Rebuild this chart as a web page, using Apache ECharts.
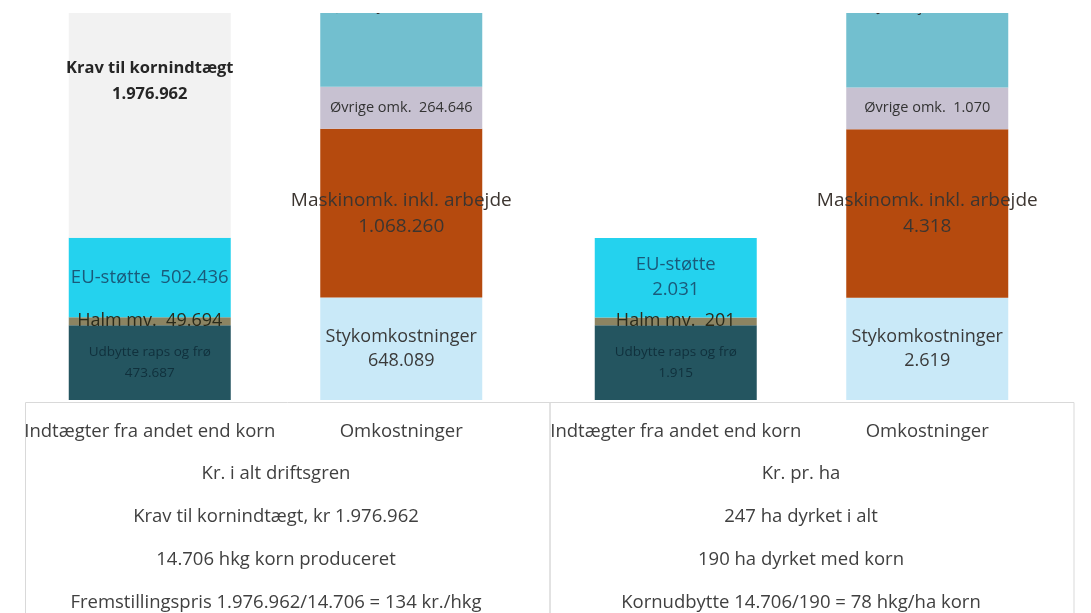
<!DOCTYPE html>
<html>
<head>
<meta charset="utf-8">
<script src="https://cdn.jsdelivr.net/npm/echarts@6/dist/echarts.min.js"></script>
<style>
  html, body { margin: 0; padding: 0; overflow: hidden; background: #fff; }
  /* chart is taller than the window and shifted up, so the top of the tall bars is cut off */
  #main { position: absolute; left: 0; top: -100px; width: 1091px; height: 713px; }
</style>
</head>
<body>
<div id="main"></div>
<script>
const categories = ['Indtægter fra andet end korn', 'Omkostninger'];

const indtaegtNavne = ['Udbytte raps og frø', 'Halm mv.', 'EU-støtte', 'Krav til kornindtægt'];
const indtaegtIAlt = [473687, 49694, 502436, 1976962];
const indtaegtPrHa = [1915, 201, 2031];

const omkNavne = ['Stykomkostninger', 'Maskinomk. inkl. arbejde', 'Øvrige omk.', 'Jordleje'];
const omkIAlt = [648089, 1068260, 264646, 1021784];
const omkPrHa = [2619, 4318, 1070, 4144];

const noterVenstre = ['Kr. i alt driftsgren', 'Krav til kornindtægt, kr 1.976.962',
  '14.706 hkg korn produceret', 'Fremstillingspris 1.976.962/14.706 = 134 kr./hkg'];
const noterHoejre = ['Kr. pr. ha', '247 ha dyrket i alt',
  '190 ha dyrket med korn', 'Kornudbytte 14.706/190 = 78 hkg/ha korn'];

// styles per stack level
const indtaegtFarver = ['#245560', '#8c8462', '#24d2ee', '#f2f2f2'];
const omkFarver = ['#c9e9f8', '#b54a0e', '#c7c1d1', '#72bfcf'];
const indtaegtLabel = [
  { fontSize: 13.5, color: '#10303c', lineHeight: 21 },
  { fontSize: 18, color: '#2a2a1a' },
  { fontSize: 18.5, color: '#1a5a7a', lineHeight: 25 },
  { fontSize: 16.5, color: '#262626', fontWeight: 'bold', lineHeight: 26 }
];
const omkLabel = [
  { fontSize: 18, color: '#3a3a3a', lineHeight: 24 },
  { fontSize: 19, color: '#3c3530', lineHeight: 26 },
  { fontSize: 14.5, color: '#333', },
  { fontSize: 15, color: '#333' }
];
const sepVenstre = { inc: ['\n', '  ', '  ', '\n'], omk: ['\n', '\n', '  ', '  '] };
const sepHoejre = { inc: ['\n', '  ', '\n', '\n'], omk: ['\n', '\n', '  ', '  '] };

function fmt(n) {
  return String(n).replace(/\B(?=(\d{3})+(?!\d))/g, '.');
}

function buildSeries(gridIdx, incVals, omkVals, sep) {
  const out = [];
  for (let k = 0; k < 4; k++) {
    const items = [];
    if (incVals[k] != null) {
      items.push({
        value: incVals[k],
        itemStyle: { color: indtaegtFarver[k] },
        label: Object.assign({ formatter: indtaegtNavne[k] + sep.inc[k] + fmt(incVals[k]) }, indtaegtLabel[k])
      });
    } else {
      items.push('-');
    }
    items.push({
      value: omkVals[k],
      itemStyle: { color: omkFarver[k] },
      label: Object.assign({ formatter: omkNavne[k] + sep.omk[k] + fmt(omkVals[k]) }, omkLabel[k])
    });
    out.push({
      type: 'bar',
      stack: 'total' + gridIdx,
      xAxisIndex: gridIdx,
      yAxisIndex: gridIdx,
      barWidth: 162,
      clip: false,
      label: { show: true, position: 'inside' },
      emphasis: { disabled: true },
      data: items
    });
  }
  return out;
}

const myChart = echarts.init(document.getElementById('main'));

const xAx = (i) => ({
  type: 'category',
  gridIndex: i,
  data: categories,
  axisLine: { show: false },
  axisTick: { show: false },
  axisLabel: { interval: 0, fontSize: 18.5, color: '#404040', margin: 22 }
});
const yAx = (i, max) => ({
  type: 'value', gridIndex: i, min: 0, max: max, show: false, splitLine: { show: false }
});

const noteText = (x, lines) => lines.map((t, i) => ({
  type: 'text',
  x: x,
  y: 574 + i * 43,
  style: {
    text: t, fill: '#404040', fontSize: 18.5, fontFamily: 'Open Sans',
    align: 'center', verticalAlign: 'middle'
  }
}));

const option = {
  animation: false,
  textStyle: { fontFamily: 'Open Sans' },
  grid: [
    { left: 24, width: 503, top: 10, bottom: 213 },
    { left: 550, width: 503, top: 10, bottom: 213 }
  ],
  xAxis: [xAx(0), xAx(1)],
  yAxis: [yAx(0, 3100000), yAx(1, 12550)],
  series: buildSeries(0, indtaegtIAlt, omkIAlt, sepVenstre)
    .concat(buildSeries(1, indtaegtPrHa, omkPrHa, sepHoejre)),
  graphic: [
    // crop of the picture top
    { type: 'rect', z: 100, shape: { x: 0, y: 0, width: 1091, height: 113 }, style: { fill: '#fff' } },
    { type: 'rect', z: 90, shape: { x: 25.5, y: 502.5, width: 524.5, height: 300 },
      style: { fill: 'none', stroke: '#d9d9d9', lineWidth: 1 } },
    { type: 'rect', z: 90, shape: { x: 550, y: 502.5, width: 524, height: 300 },
      style: { fill: 'none', stroke: '#d9d9d9', lineWidth: 1 } }
  ].concat(noteText(276, noterVenstre), noteText(801, noterHoejre))
};

myChart.setOption(option);
</script>
</body>
</html>
